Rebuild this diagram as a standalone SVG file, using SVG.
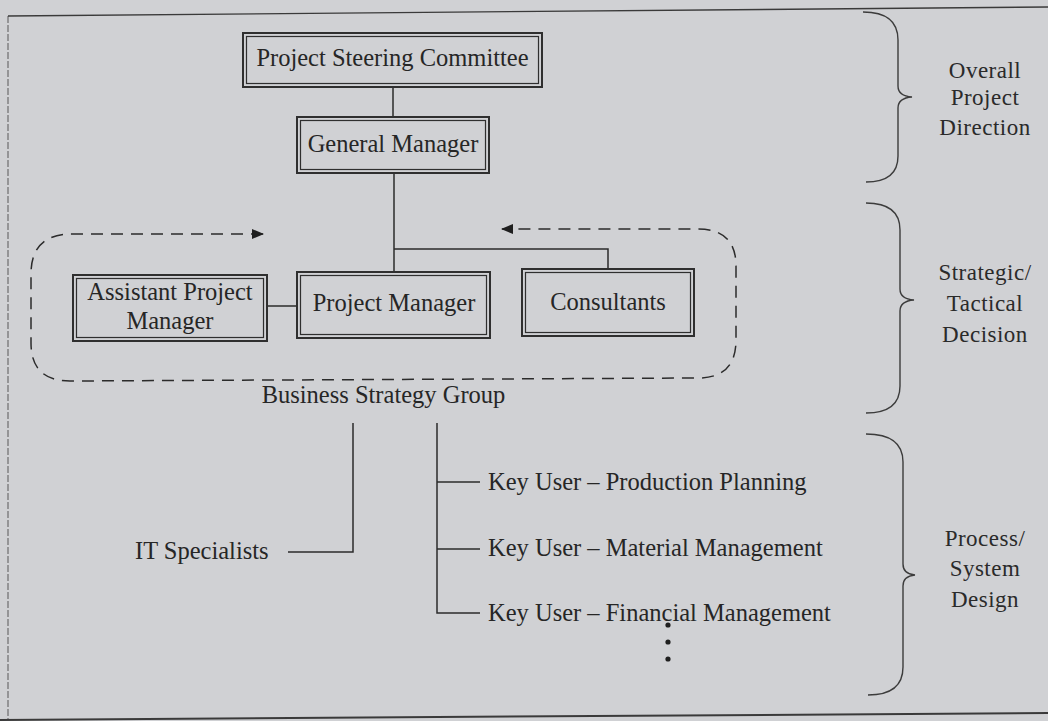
<svg xmlns="http://www.w3.org/2000/svg" width="1048" height="721" viewBox="0 0 1048 721">
  <defs>
    <style>
      .outer { fill: none; stroke: #2f2f2f; stroke-width: 2; }
      .inner { fill: none; stroke: #2f2f2f; stroke-width: 1.2; }
      .lbl { font-family: "Liberation Serif", "Times New Roman", serif; font-size: 24.5px; fill: #262626; text-anchor: middle; }
      .lbl-start { font-family: "Liberation Serif", "Times New Roman", serif; font-size: 24.5px; fill: #262626; }
      .side { font-family: "Liberation Serif", "Times New Roman", serif; font-size: 23px; fill: #2a2a2a; text-anchor: middle; letter-spacing: 0.5px; }
      .conn { fill: none; stroke: #2b2b2b; stroke-width: 1.5; }
      .dash { fill: none; stroke: #2b2b2b; stroke-width: 1.5; stroke-dasharray: 12 8; }
      .brace { fill: none; stroke: #3c3c3c; stroke-width: 1.4; }
      .frame { fill: none; stroke: #3a3a3a; }
    </style>
    <marker id="arrow" viewBox="0 0 12 10" refX="11" refY="5" markerWidth="12" markerHeight="10" markerUnits="userSpaceOnUse" orient="auto-start-reverse">
      <path d="M0,0 L12,5 L0,10 Z" fill="#1f1f1f"/>
    </marker>
  </defs>

  <!-- page background and frame -->
  <rect x="0" y="0" width="1048" height="721" fill="#d0d1d4"/>
  <line class="frame" x1="8" y1="16" x2="1048" y2="7" stroke-width="1.4"/>
  <line class="frame" x1="8" y1="16" x2="8" y2="719" stroke-width="1" stroke-dasharray="7 2" opacity="0.8"/>
  <line class="frame" x1="0" y1="720" x2="1048" y2="713" stroke-width="2"/>

  <!-- connectors -->
  <g id="connectors">
    <line class="conn" x1="393" y1="87" x2="393" y2="117"/>
    <line class="conn" x1="394" y1="173" x2="394" y2="272"/>
    <polyline class="conn" points="394,249 608,249 608,269"/>
    <line class="conn" x1="267" y1="306" x2="297" y2="306"/>
    <polyline class="conn" points="353,423 353,552 288,552"/>
    <polyline class="conn" points="437,423 437,613 480,613"/>
    <line class="conn" x1="437" y1="482" x2="480" y2="482"/>
    <line class="conn" x1="437" y1="549" x2="480" y2="549"/>
    <!-- dashed loop around the business strategy group -->
    <path class="dash" marker-start="url(#arrow)" marker-end="url(#arrow)"
          d="M263,234 L72,234 Q31,234 31,274 L31,343 Q31,381 70,381 L700,378 Q736,377 736,340 L736,266 Q736,229 698,229 L502,229"/>
  </g>

  <g id="steering-committee">
    <rect class="outer" x="243" y="33" width="299" height="54"/>
    <rect class="inner" x="246.5" y="36.5" width="292" height="47"/>
    <text class="lbl" x="392.5" y="66">Project Steering Committee</text>
  </g>

  <g id="general-manager">
    <rect class="outer" x="297" y="117" width="192" height="56"/>
    <rect class="inner" x="300.5" y="120.5" width="185" height="49"/>
    <text class="lbl" x="393" y="152">General Manager</text>
  </g>

  <g id="assistant-project-manager">
    <rect class="outer" x="73" y="275" width="194" height="66"/>
    <rect class="inner" x="76.5" y="278.5" width="187" height="59"/>
    <text class="lbl" x="170" y="300">Assistant Project</text>
    <text class="lbl" x="170" y="329">Manager</text>
  </g>

  <g id="project-manager">
    <rect class="outer" x="297" y="272" width="193" height="66"/>
    <rect class="inner" x="300.5" y="275.5" width="186" height="59"/>
    <text class="lbl" x="394" y="311">Project Manager</text>
  </g>

  <g id="consultants">
    <rect class="outer" x="522" y="269" width="172" height="67"/>
    <rect class="inner" x="525.5" y="272.5" width="165" height="60"/>
    <text class="lbl" x="608" y="310">Consultants</text>
  </g>

  <g id="business-strategy-group">
    <text class="lbl" x="383.5" y="403">Business Strategy Group</text>
  </g>

  <g id="it-specialists">
    <text class="lbl-start" x="135" y="559">IT Specialists</text>
  </g>

  <g id="key-users">
    <text class="lbl-start" x="488" y="490">Key User – Production Planning</text>
    <text class="lbl-start" x="488" y="556">Key User – Material Management</text>
    <text class="lbl-start" x="488" y="621">Key User – Financial Management</text>
    <circle cx="668" cy="625" r="2.6" fill="#1f1f1f"/>
    <circle cx="668" cy="642" r="2.6" fill="#1f1f1f"/>
    <circle cx="668" cy="659" r="2.6" fill="#1f1f1f"/>
  </g>

  <!-- level braces on the right -->
  <g id="level-overall">
    <path class="brace" d="M863,12 Q898,12 898,40 L898,86 Q898,96 912,97 Q898,98 898,108 L898,156 Q898,182 866,182"/>
    <text class="side" x="985" y="78">Overall</text>
    <text class="side" x="985" y="105">Project</text>
    <text class="side" x="985" y="135">Direction</text>
  </g>

  <g id="level-strategic">
    <path class="brace" d="M866,203 Q900,203 900,230 L900,289 Q900,299 914,300 Q900,301 900,311 L900,386 Q900,413 866,413"/>
    <text class="side" x="985" y="280">Strategic/</text>
    <text class="side" x="985" y="311">Tactical</text>
    <text class="side" x="985" y="342">Decision</text>
  </g>

  <g id="level-process">
    <path class="brace" d="M866,434 Q903,434 903,462 L903,564 Q903,574 915,575 Q903,576 903,586 L903,667 Q903,695 868,695"/>
    <text class="side" x="985" y="546">Process/</text>
    <text class="side" x="985" y="576">System</text>
    <text class="side" x="985" y="607">Design</text>
  </g>
</svg>
